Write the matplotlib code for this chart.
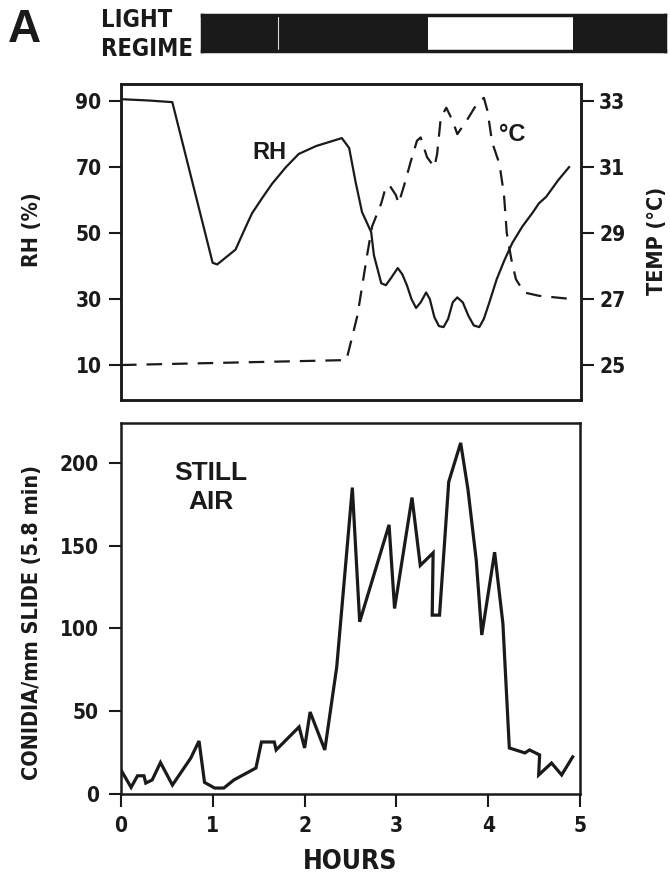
import matplotlib
matplotlib.use("Agg")
import matplotlib.pyplot as plt
from matplotlib.font_manager import FontProperties

# ---------------- data ----------------
rh_hours = [0.00, 0.30, 0.56, 1.00, 1.05, 1.25, 1.36, 1.43, 1.54, 1.65, 1.80, 1.94, 2.13,
            2.41, 2.49, 2.56, 2.63, 2.73, 2.76, 2.84, 2.89, 2.95, 3.02, 3.07, 3.12, 3.17,
            3.22, 3.27, 3.33, 3.37, 3.42, 3.47, 3.52, 3.57, 3.62, 3.67, 3.73, 3.79, 3.85,
            3.91, 3.96, 4.02, 4.10, 4.18, 4.27, 4.38, 4.50, 4.56, 4.64, 4.77, 4.89]
rh_values = [90.6, 90.2, 89.7, 41.0, 40.5, 45.0, 51.8, 56.0, 60.6, 65.0, 70.0, 74.0, 76.4,
             78.8, 75.8, 65.5, 56.4, 50.3, 43.3, 34.8, 34.2, 36.5, 39.4, 37.5, 34.2, 30.0,
             27.3, 29.0, 32.0, 30.0, 24.5, 21.8, 21.5, 24.0, 29.0, 30.5, 29.0, 25.0, 22.0,
             21.5, 24.0, 29.0, 36.0, 41.5, 47.0, 52.0, 56.5, 59.0, 61.0, 66.0, 70.0]

temp_hours = [0.00, 2.46, 2.58, 2.69, 2.74, 2.84, 2.89, 2.93, 3.00, 3.03, 3.09, 3.16, 3.23,
              3.27, 3.34, 3.42, 3.45, 3.49, 3.55, 3.62, 3.67, 3.77, 3.88, 3.96, 4.00, 4.05,
              4.13, 4.18, 4.21, 4.26, 4.31, 4.40, 4.56, 4.92]
temp_values = [25.0, 25.15, 26.5, 28.4, 29.2, 29.9, 30.4, 30.45, 30.15, 29.9, 30.45, 31.15, 31.8,
               31.9, 31.3, 31.0, 31.4, 32.5, 32.8, 32.4, 32.0, 32.4, 32.9, 33.1, 32.7, 31.75,
               31.1, 30.15, 29.0, 28.2, 27.6, 27.2, 27.1, 27.0]

con_hours = [0.00, 0.11, 0.18, 0.25, 0.27, 0.34, 0.43, 0.56, 0.76, 0.85, 0.91, 1.02, 1.12,
             1.23, 1.47, 1.53, 1.67, 1.69, 1.94, 2.00, 2.06, 2.22, 2.35, 2.52, 2.60, 2.92,
             2.98, 3.17, 3.26, 3.40, 3.39, 3.47, 3.57, 3.70, 3.78, 3.87, 3.93, 4.07, 4.16,
             4.23, 4.40, 4.45, 4.56, 4.55, 4.69, 4.80, 4.92]
con_values = [14.5, 4.0, 11.0, 11.0, 6.6, 8.5, 19.0, 5.4, 21.7, 32.0, 7.0, 3.6, 3.6,
              8.5, 15.7, 31.4, 31.4, 26.6, 40.5, 27.8, 49.5, 26.6, 76.7, 185.0, 104.0, 162.5,
              112.0, 179.0, 138.0, 145.6, 108.0, 108.0, 188.5, 212.0, 183.7, 141.0, 96.0, 146.0, 103.0,
              27.8, 24.8, 26.6, 23.6, 11.5, 18.7, 11.5, 22.4]

# light regime (hours on the bar's own time scale): dark / light / dark
light_starts = [0.00, 2.47, 4.05]
light_ends = [2.47, 4.05, 5.05]
light_states = ["dark", "light", "dark"]
light_separator = 0.83

rh_ticks = [10, 30, 50, 70, 90]
temp_ticks = [25, 27, 29, 31, 33]
con_ticks = [0, 50, 100, 150, 200]
hour_ticks = [0, 1, 2, 3, 4, 5]

# ---------------- style ----------------
W, H = 670, 885
fam_n = ["DejaVu Sans"]
narrow = FontProperties(family=fam_n, weight="bold", stretch="condensed", size=15)
narrow_lab = FontProperties(family=fam_n, weight="bold", stretch="condensed", size=15.5)
narrow_big = FontProperties(family=fam_n, weight="bold", stretch="condensed", size=17)
narrow_hours = FontProperties(family=fam_n, weight="bold", stretch="condensed", size=19)
helv = FontProperties(family=["Liberation Sans", "DejaVu Sans"], weight="bold", size=17)
helv_big = FontProperties(family=["Liberation Sans", "DejaVu Sans"], weight="bold", size=19)
helv_A = FontProperties(family=["Liberation Sans", "DejaVu Sans"], weight="bold", size=33)
ink = "#1a1a1a"

def box(l, t, r, b):
    return [l / W, 1 - b / H, (r - l) / W, (b - t) / H]

fig = plt.figure(figsize=(6.7, 8.85), dpi=100)

# ---------------- light regime bar ----------------
axl = fig.add_axes(box(202, 15, 665, 51))
axl.set_xlim(0, 5.05)
axl.set_ylim(0, 1)
for s, e, st in zip(light_starts, light_ends, light_states):
    if st == "dark":
        axl.axvspan(s, e, color=ink, lw=0)
axl.axvline(light_separator, color="#dddddd", lw=0.8)
for sp in axl.spines.values():
    sp.set_color(ink)
    sp.set_linewidth(2.5)
axl.set_xticks([])
axl.set_yticks([])

fig.text(8 / W, 1 - 30 / H, "A", fontproperties=helv_A, color=ink, va="center", ha="left")
fig.text(101 / W, 1 - 20 / H, "LIGHT", fontproperties=narrow_big, color=ink, va="center", ha="left")
fig.text(101 / W, 1 - 49 / H, "REGIME", fontproperties=narrow_big, color=ink, va="center", ha="left")

# ---------------- RH / temperature panel ----------------
ax1 = fig.add_axes(box(121, 84, 581, 400))
ax1.set_xlim(0, 5.02)
ax1.set_ylim(-0.6, 95.2)
ax1.plot(rh_hours, rh_values, color=ink, lw=1.6, solid_joinstyle="round")
ax1.set_xticks([])
ax1.set_yticks(rh_ticks)
ax1.set_yticklabels([str(v) for v in rh_ticks], fontproperties=narrow)
ax1.tick_params(axis="y", direction="out", length=9, width=1.5, pad=5, colors=ink)

ax2 = ax1.twinx()
ax2.set_ylim(25 + (-0.6 - 10) / 10, 25 + (95.2 - 10) / 10)
ax2.plot(temp_hours, temp_values, color=ink, lw=1.6, dashes=(7, 4.5))
ax2.set_yticks(temp_ticks)
ax2.set_yticklabels([str(v) for v in temp_ticks], fontproperties=narrow)
ax2.tick_params(axis="y", direction="out", length=9, width=1.5, pad=4, colors=ink)

for a in (ax1, ax2):
    for sp in a.spines.values():
        sp.set_linewidth(1.8)
        sp.set_color(ink)

ax1.text(1.62, 74.5, "RH", fontproperties=helv, color=ink, ha="center", va="center")
ax2.text(4.27, 32.0, "°C", fontproperties=helv, color=ink, ha="center", va="center")

fig.text(32 / W, 1 - 230 / H, "RH (%)", fontproperties=narrow_lab, color=ink,
         rotation=90, ha="center", va="center")
fig.text(657 / W, 1 - 241 / H, "TEMP (°C)", fontproperties=narrow_lab, color=ink,
         rotation=90, ha="center", va="center")

# ---------------- conidia panel ----------------
ax3 = fig.add_axes(box(121, 423, 580, 794))
ax3.set_xlim(0, 5.0)
ax3.set_ylim(0, 224)
ax3.plot(con_hours, con_values, color=ink, lw=2.3, solid_joinstyle="miter")
ax3.set_yticks(con_ticks)
ax3.set_yticklabels([str(v) for v in con_ticks], fontproperties=narrow)
ax3.set_xticks(hour_ticks)
ax3.set_xticklabels([str(v) for v in hour_ticks], fontproperties=narrow)
ax3.tick_params(axis="both", direction="out", length=9, width=1.5, pad=7, colors=ink)
for sp in ax3.spines.values():
    sp.set_linewidth(1.8)
    sp.set_color(ink)

ax3.text(0.98, 185, "STILL\nAIR", fontproperties=helv_big, color=ink,
         ha="center", va="center", linespacing=1.3)

fig.text(32 / W, 1 - 622 / H, "CONIDIA/mm SLIDE (5.8 min)", fontproperties=narrow_lab,
         color=ink, rotation=90, ha="center", va="center")
fig.text(350 / W, 1 - 862 / H, "HOURS", fontproperties=narrow_hours, color=ink,
         ha="center", va="center")

fig.savefig("out.png", dpi=100, facecolor="white")
